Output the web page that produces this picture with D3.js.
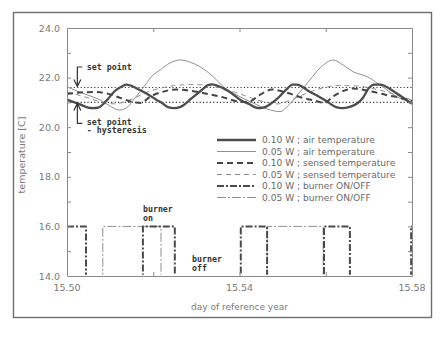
<!DOCTYPE html>
<html><head><meta charset="utf-8">
<script src="https://cdn.jsdelivr.net/npm/d3@7"></script>
<style>body{margin:0;background:#fff}svg{display:block}</style>
</head><body><svg id="c" width="445" height="357"></svg>
<script>
// ---------- data ----------
const xDomain = [15.50, 15.58];
const yDomain = [14, 24];
const xTickValues = [15.50, 15.52, 15.54, 15.56, 15.58];
const xTickLabels = ["15.50", "", "15.54", "", "15.58"];
const yTickValues = [14, 15, 16, 17, 18, 19, 20, 21, 22, 23, 24];
const yTickLabels = ["14.0", "", "16.0", "", "18.0", "", "20.0", "", "22.0", "", "24.0"];
const setPoint = 21.6;
const setPointLow = 21.0;
const burnerOnLevel = 16.0;
const burnerOffLevel = 14.0;

// 0.10 W ; air temperature
const air10Days  = [15.5000,15.5030,15.5049,15.5060,15.5072,15.5097,15.5111,15.5128,15.5137,15.5148,15.5169,15.5189,15.5206,15.5220,15.5234,15.5248,15.5262,15.5290,15.5313,15.5327,15.5336,15.5348,15.5375,15.5406,15.5422,15.5438,15.5448,15.5459,15.5485,15.5512,15.5522,15.5533,15.5561,15.5601,15.5624,15.5638,15.5654,15.5686,15.5700,15.5712,15.5726,15.5763,15.5800];
const air10Temps = [21.11,20.92,20.79,20.77,20.79,21.18,21.46,21.65,21.72,21.68,21.50,21.31,21.12,20.98,20.81,20.77,20.81,21.18,21.51,21.70,21.73,21.68,21.45,21.06,20.94,20.79,20.77,20.81,21.11,21.58,21.72,21.72,21.45,21.06,20.81,20.77,20.81,21.18,21.58,21.72,21.72,21.38,20.94];

// 0.05 W ; air temperature
const air05Days  = [15.5000,15.5035,15.5081,15.5104,15.5121,15.5137,15.5158,15.5181,15.5197,15.5216,15.5239,15.5262,15.5285,15.5308,15.5339,15.5366,15.5392,15.5431,15.5468,15.5494,15.5515,15.5538,15.5563,15.5587,15.5617,15.5640,15.5663,15.5696,15.5726,15.5765,15.5800];
const air05Temps = [21.62,21.38,21.06,20.81,20.69,20.77,21.18,21.70,22.06,22.31,22.59,22.71,22.63,22.44,22.04,21.58,21.31,20.98,20.71,20.63,20.91,21.38,21.90,22.39,22.71,22.51,22.24,22.04,21.70,21.23,20.98];

// 0.10 W ; sensed temperature
const sensed10Days  = [15.5000,15.5030,15.5065,15.5088,15.5118,15.5151,15.5172,15.5192,15.5220,15.5253,15.5290,15.5320,15.5359,15.5406,15.5424,15.5443,15.5461,15.5475,15.5508,15.5547,15.5577,15.5596,15.5619,15.5647,15.5663,15.5700,15.5740,15.5779,15.5800];
const sensed10Temps = [21.34,21.40,21.42,21.38,21.22,21.02,20.98,21.22,21.42,21.52,21.46,21.36,21.22,21.02,21.04,21.26,21.44,21.52,21.40,21.18,21.06,20.98,21.26,21.50,21.56,21.46,21.30,21.16,21.06];

// 0.05 W ; sensed temperature
const sensed05Days  = [15.5000,15.5042,15.5083,15.5111,15.5146,15.5181,15.5218,15.5250,15.5296,15.5342,15.5388,15.5434,15.5462,15.5487,15.5520,15.5557,15.5592,15.5631,15.5673,15.5724,15.5770,15.5800];
const sensed05Temps = [21.42,21.22,21.00,20.94,21.10,21.38,21.58,21.68,21.72,21.64,21.42,21.14,21.00,20.94,21.10,21.38,21.58,21.68,21.66,21.50,21.26,21.10];

// burner ON/OFF switching times (state holds until next time)
const burner10Days  = [15.5000,15.5044,15.5176,15.5250,15.5403,15.5464,15.5596,15.5656,15.5798,15.5800];
const burner10State = [1,0,1,0,1,0,1,0,1,1];
const burner05Days  = [15.5000,15.5083,15.5218,15.5464,15.5594,15.5800];
const burner05State = [0,1,0,1,0,0];

const seriesNames = ["0.10 W ; air temperature","0.05 W ; air temperature","0.10 W ; sensed temperature","0.05 W ; sensed temperature","0.10 W ; burner ON/OFF","0.05 W ; burner ON/OFF"];

// ---------- chart ----------
const svg = d3.select("#c");
const L = 67, R = 412, T = 28, B = 276;
const x = d3.scaleLinear().domain(xDomain).range([L, R]);
const y = d3.scaleLinear().domain(yDomain).range([B, T]);

const FONT = "'DejaVu Sans', sans-serif";
const MONO = "'DejaVu Sans Mono', monospace";

// outer frame
svg.append("rect").attr("x", 13.5).attr("y", 12.5).attr("width", 418).attr("height", 305)
  .attr("fill", "none").attr("stroke", "#6e6e6e").attr("stroke-width", 1.4);

const styles = [
  {stroke:"#4d4d4d", width:2.3, dash:null},
  {stroke:"#8f8f8f", width:1.0, dash:null},
  {stroke:"#454545", width:2.0, dash:"6,4"},
  {stroke:"#8f8f8f", width:1.0, dash:"5,4"},
  {stroke:"#4a4a4a", width:2.0, dash:"7,2,2,2"},
  {stroke:"#8f8f8f", width:1.0, dash:"9,2,2,2"}
];

svg.append("defs").append("clipPath").attr("id","pc")
  .append("rect").attr("x", L).attr("y", T).attr("width", R - L).attr("height", B - T - 1.2);

const plot = svg.append("g").attr("clip-path","url(#pc)");

// set point lines
[setPoint, setPointLow].forEach(v => {
  plot.append("line").attr("x1", x(xDomain[0])).attr("x2", x(xDomain[1]))
    .attr("y1", y(v)).attr("y2", y(v))
    .attr("stroke", "#3a3a3a").attr("stroke-width", 1.2).attr("stroke-dasharray", "1.2,2.2");
});

const tempLine = d3.line().x(d => x(d[0])).y(d => y(d[1])).curve(d3.curveMonotoneX);
const stepLine = d3.line().x(d => x(d[0])).y(d => y(d[1])).curve(d3.curveStepAfter);

const zip = (a, b) => a.map((d, i) => [d, b[i]]);
const toLevel = s => s ? burnerOnLevel : burnerOffLevel;

const paths = [
  {d: tempLine(zip(air10Days, air10Temps)), s: styles[0]},
  {d: tempLine(zip(air05Days, air05Temps)), s: styles[1]},
  {d: tempLine(zip(sensed10Days, sensed10Temps)), s: styles[2]},
  {d: tempLine(zip(sensed05Days, sensed05Temps)), s: styles[3]},
  {d: stepLine(zip(burner10Days, burner10State.map(toLevel))), s: styles[4]},
  {d: stepLine(zip(burner05Days, burner05State.map(toLevel))), s: styles[5]}
];
// draw thin ones first, then thick
[1,3,5,0,2,4].forEach(i => {
  const p = paths[i];
  plot.append("path").attr("d", p.d).attr("fill","none")
    .attr("stroke", p.s.stroke).attr("stroke-width", p.s.width)
    .attr("stroke-dasharray", p.s.dash).attr("stroke-linejoin","round");
});

// axes (inward ticks)
const axisColor = "#8a8a8a";
function styleAxis(g){
  g.select(".domain").attr("stroke", axisColor).attr("stroke-width", 1);
  g.selectAll(".tick line").attr("stroke", axisColor);
  g.selectAll("text").attr("fill", "#7a7a7a").style("font-family", FONT).style("font-size", "9.5px");
}
const innerX = xTickValues.filter(v => v > xDomain[0] && v < xDomain[1]);
const innerY = yTickValues.filter(v => v > yDomain[0] && v < yDomain[1]);

svg.append("g").attr("transform", `translate(0,${B})`)
  .call(d3.axisBottom(x).tickValues(innerX).tickSize(-4).tickFormat("").tickSizeOuter(0)).call(styleAxis);
svg.append("g").attr("transform", `translate(0,${T})`)
  .call(d3.axisTop(x).tickValues(innerX).tickSize(-4).tickFormat("").tickSizeOuter(0)).call(styleAxis);
svg.append("g").attr("transform", `translate(${L},0)`)
  .call(d3.axisLeft(y).tickValues(innerY).tickSize(-4).tickFormat("").tickSizeOuter(0)).call(styleAxis);
svg.append("g").attr("transform", `translate(${R},0)`)
  .call(d3.axisRight(y).tickValues(innerY).tickSize(-4).tickFormat("").tickSizeOuter(0)).call(styleAxis);

// tick labels
xTickValues.forEach((v, i) => {
  if (!xTickLabels[i]) return;
  svg.append("text").attr("x", x(v)).attr("y", B + 15).attr("text-anchor", "middle")
    .attr("fill", "#7a7a7a").style("font-family", FONT).style("font-size", "9.5px").text(xTickLabels[i]);
});
yTickValues.forEach((v, i) => {
  if (!yTickLabels[i]) return;
  svg.append("text").attr("x", L - 7).attr("y", y(v) + 3.5).attr("text-anchor", "end")
    .attr("fill", "#7a7a7a").style("font-family", FONT).style("font-size", "9.5px").text(yTickLabels[i]);
});

// axis titles
svg.append("text").attr("x", (L + R) / 2).attr("y", 310).attr("text-anchor", "middle")
  .attr("fill", "#7a7a7a").style("font-family", FONT).style("font-size", "9px").text("day of reference year");
svg.append("text").attr("transform", `translate(25,${(T + B) / 2 + 3}) rotate(-90)`).attr("text-anchor", "middle")
  .attr("fill", "#7a7a7a").style("font-family", FONT).style("font-size", "9.5px").text("temperature [C]");

// legend
const legX1 = 217, legX2 = 256, legTextX = 262, legY0 = 140, legDy = 11.5;
seriesNames.forEach((name, i) => {
  const yy = legY0 + i * legDy;
  const s = styles[i];
  svg.append("line").attr("x1", legX1).attr("x2", legX2).attr("y1", yy).attr("y2", yy)
    .attr("stroke", s.stroke).attr("stroke-width", s.width).attr("stroke-dasharray", s.dash);
  svg.append("text").attr("x", legTextX).attr("y", yy + 3.3)
    .attr("fill", "#6a6a6a").style("font-family", FONT).style("font-size", "9.1px").text(name);
});

// annotations
const annColor = "#333";
function annText(tx, ty, str){
  svg.append("text").attr("x", tx).attr("y", ty).attr("fill", annColor)
    .style("font-family", MONO).style("font-weight", "bold").style("font-size", "8.3px").text(str);
}
const ax = x(15.5024), atx = x(15.5046);
const ySP = y(setPoint), ySPL = y(setPointLow);
// upper arrow (points down to set point)
svg.append("path")
  .attr("d", `M${ax+5},${ySP-20.5}H${ax}V${ySP-1} M${ax-3.5},${ySP-8}L${ax},${ySP-1}L${ax+3.5},${ySP-8}`)
  .attr("fill","none").attr("stroke", annColor).attr("stroke-width", 1.2);
annText(atx, ySP - 17.5, "set point");
// lower arrow (points up to set point - hysteresis)
svg.append("path")
  .attr("d", `M${ax+5},${ySPL+21}H${ax}V${ySPL+1} M${ax-3.5},${ySPL+8}L${ax},${ySPL+1}L${ax+3.5},${ySPL+8}`)
  .attr("fill","none").attr("stroke", annColor).attr("stroke-width", 1.2);
annText(atx, ySPL + 22.5, "set point");
annText(atx, ySPL + 31, "- hysteresis");

// burner on / off labels
annText(x(burner10Days[2]), y(burnerOnLevel) - 14, "burner");
annText(x(burner10Days[2]), y(burnerOnLevel) - 5, "on");
annText(x(15.5290), y(burnerOffLevel) - 14, "burner");
annText(x(15.5290), y(burnerOffLevel) - 5, "off");
</script></body></html>
